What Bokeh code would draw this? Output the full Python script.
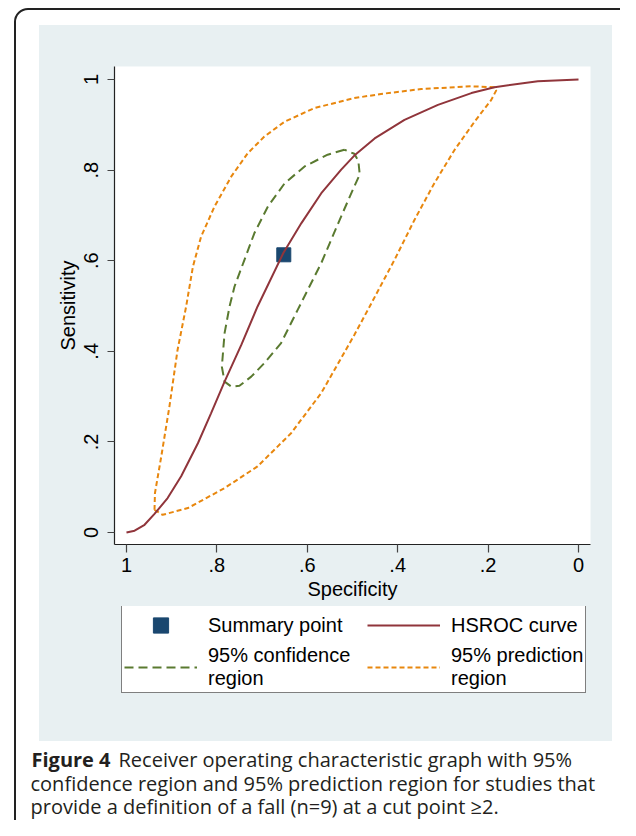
import numpy as np
from bokeh.plotting import figure
from bokeh.layouts import column
from bokeh.models import (Range1d, FixedTicker, Label, Legend, LegendItem,
                          CustomJSTickFormatter)
from bokeh.embed import file_html
from bokeh.resources import INLINE

# ---------------- data ----------------
hsroc_spec = [1.0, 0.982, 0.960, 0.938, 0.909, 0.879, 0.842, 0.813, 0.783, 0.746,
              0.710, 0.653, 0.613, 0.569, 0.525, 0.496, 0.451, 0.385, 0.311, 0.237,
              0.186, 0.090, 0.0]
hsroc_sens = [0.0, 0.004, 0.017, 0.041, 0.076, 0.124, 0.197, 0.263, 0.333, 0.414,
              0.499, 0.617, 0.683, 0.749, 0.801, 0.832, 0.870, 0.911, 0.944, 0.970,
              0.983, 0.996, 1.0]

conf_spec = [0.518, 0.555, 0.606, 0.650, 0.687, 0.717, 0.739, 0.761, 0.772, 0.783,
             0.789, 0.783, 0.768, 0.750, 0.724, 0.695, 0.658, 0.621, 0.569, 0.525,
             0.496, 0.484, 0.487, 0.496, 0.518]
conf_sens = [0.845, 0.834, 0.808, 0.771, 0.720, 0.661, 0.602, 0.543, 0.499, 0.440,
             0.366, 0.333, 0.322, 0.324, 0.344, 0.374, 0.418, 0.492, 0.595, 0.698,
             0.764, 0.790, 0.820, 0.836, 0.845]

pred_spec = [0.938, 0.920, 0.864, 0.783, 0.710, 0.636, 0.569, 0.496, 0.462, 0.407,
             0.363, 0.319, 0.274, 0.230, 0.193, 0.182, 0.186, 0.237, 0.348, 0.437,
             0.496, 0.584, 0.650, 0.695, 0.732, 0.768, 0.805, 0.835, 0.853, 0.868,
             0.887, 0.905, 0.923, 0.937, 0.938]
pred_sens = [0.050, 0.039, 0.054, 0.098, 0.146, 0.219, 0.308, 0.436, 0.499, 0.602,
             0.690, 0.771, 0.845, 0.907, 0.955, 0.976, 0.983, 0.985, 0.979, 0.968,
             0.959, 0.937, 0.907, 0.874, 0.837, 0.786, 0.720, 0.653, 0.587, 0.499,
             0.403, 0.278, 0.168, 0.087, 0.050]

summary_spec = [0.652]
summary_sens = [0.613]

tick_values = [1.0, 0.8, 0.6, 0.4, 0.2, 0.0]
tick_labels = ["1", ".8", ".6", ".4", ".2", "0"]

legend_labels = ["Summary point", "HSROC curve",
                 "95% confidence   \nregion", "95% prediction\nregion"]

caption_bold = "Figure 4"
caption_lines = ["Receiver operating characteristic graph with 95%",
                 "confidence region and 95% prediction region for studies that",
                 "provide a definition of a fall (n=9) at a cut point \u22652."]

# ---------------- styles ----------------
PANEL = "#E8F0F2"
C_PRED = "#E8870E"
C_CONF = "#5A7A30"
C_HS = "#90353B"
C_PT = "#1A476F"
FONT = "Liberation Sans"
CAP_FONT = "Open Sans"
CAP_SIZE = "20px"
W, H_MAIN, H_LOW = 620, 606, 214

x0, x1 = 1.0265, -0.0265
y0, y1 = -0.0265, 1.0287

p = figure(width=W, height=H_MAIN, x_range=Range1d(x0, x1), y_range=Range1d(y0, y1),
           output_backend="svg", toolbar_location=None,
           min_border_left=114, min_border_right=30, min_border_top=66,
           min_border_bottom=H_MAIN - 544)
p.border_fill_alpha = 0
p.background_fill_color = "white"
p.outline_line_color = None
p.grid.visible = False

fmt = CustomJSTickFormatter(args=dict(vals=tick_values, labs=tick_labels), code="""
const i = vals.findIndex(v => Math.abs(v - tick) < 1e-9);
return i >= 0 ? labs[i] : String(tick);
""")

for ax in (p.xaxis[0], p.yaxis[0]):
    ax.ticker = FixedTicker(ticks=tick_values)
    ax.formatter = fmt
    ax.minor_tick_in = 0
    ax.minor_tick_out = 0
    ax.major_tick_in = 0
    ax.axis_line_color = "#222222"
    ax.axis_line_width = 1.2
    ax.major_tick_line_color = "#444444"
    ax.major_tick_line_width = 1.2
    ax.major_label_text_font = FONT
    ax.major_label_text_font_size = "20px"
    ax.major_label_text_color = "black"
    ax.axis_label_text_font = FONT
    ax.axis_label_text_font_size = "20px"
    ax.axis_label_text_font_style = "normal"
    ax.axis_label_text_color = "black"

p.xaxis[0].axis_label = "Specificity"
p.xaxis[0].major_tick_out = 8
p.xaxis[0].major_label_standoff = 5
p.xaxis[0].axis_label_standoff = 3
p.yaxis[0].axis_label = "Sensitivity"
p.yaxis[0].major_tick_out = 7
p.yaxis[0].major_label_orientation = "vertical"
p.yaxis[0].major_label_standoff = 9
p.yaxis[0].axis_label_standoff = 3

# ---------------- glyphs ----------------
pred_style = dict(line_color=C_PRED, line_width=2, line_dash="5 3")
conf_style = dict(line_color=C_CONF, line_width=2, line_dash="9 5")
pt_style = dict(marker="square", size=14, fill_color=C_PT, line_color=C_PT)
hs_style = dict(line_color=C_HS, line_width=2)

p.line(pred_spec, pred_sens, **pred_style)
p.line(conf_spec, conf_sens, **conf_style)
p.scatter(summary_spec, summary_sens, **pt_style)
p.line(hsroc_spec, hsroc_sens, **hs_style)

# ---------------- legend + caption figure ----------------
# the same series are drawn here outside this figure's (empty) view, only so
# that the legend below can show their line and marker samples
c = figure(width=W, height=H_LOW, x_range=Range1d(10, 11), y_range=Range1d(10, 11),
           output_backend="svg", toolbar_location=None, min_border=0,
           x_axis_type=None, y_axis_type=None)
c.border_fill_alpha = 0
c.background_fill_alpha = 0
c.outline_line_color = None
for f in (p, c):
    try:
        f.frame_align = False
    except Exception:
        pass

l_pt = c.scatter(summary_spec, summary_sens, **pt_style)
l_hs = c.line(hsroc_spec, hsroc_sens, **hs_style)
l_conf = c.line(conf_spec, conf_sens, **conf_style)
l_pred = c.line(pred_spec, pred_sens, **pred_style)

# column-major fill: col 1 = summary point, confidence; col 2 = HSROC, prediction
legend = Legend(items=[LegendItem(label=legend_labels[0], renderers=[l_pt]),
                       LegendItem(label=legend_labels[2], renderers=[l_conf]),
                       LegendItem(label=legend_labels[1], renderers=[l_hs]),
                       LegendItem(label=legend_labels[3], renderers=[l_pred])],
                location=(121, H_LOW - (693 - H_MAIN)), ncols=2, margin=0,
                padding=2, spacing=0,
                glyph_width=73, glyph_height=38, label_standoff=11,
                label_text_font=FONT, label_text_font_size="20px",
                label_text_line_height=1.0,
                label_text_color="black", label_height=20,
                border_line_color="black", border_line_width=1,
                background_fill_color="white", background_fill_alpha=1)
c.add_layout(legend)

cap_base = [759 - H_MAIN, 783 - H_MAIN, 806 - H_MAIN]
c.add_layout(Label(x=31, y=cap_base[0], x_units="canvas", y_units="canvas",
                   text=caption_bold, text_font=CAP_FONT, text_font_style="bold",
                   text_font_size=CAP_SIZE, text_color="#231F20",
                   text_baseline="alphabetic"))
c.add_layout(Label(x=118, y=cap_base[0], x_units="canvas", y_units="canvas",
                   text=caption_lines[0], text_font=CAP_FONT, text_font_size=CAP_SIZE,
                   text_color="#231F20", text_baseline="alphabetic"))
for i in (1, 2):
    c.add_layout(Label(x=30, y=cap_base[i], x_units="canvas", y_units="canvas",
                       text=caption_lines[i], text_font=CAP_FONT,
                       text_font_size=CAP_SIZE, text_color="#231F20",
                       text_baseline="alphabetic"))

css = f"""
:host {{
  position: relative;
  overflow: hidden;
  background: linear-gradient({PANEL}, {PANEL}) 39px 25px / 573px 716px no-repeat, #ffffff;
}}
:host::after {{
  content: "";
  position: absolute;
  left: 14px; top: 8px; width: 700px; height: 1000px;
  border: 2px solid #222222; border-radius: 14px;
  pointer-events: none;
}}
"""
root = column(p, c, spacing=0, stylesheets=[css])

open("out.html", "w").write(file_html(root, INLINE))
